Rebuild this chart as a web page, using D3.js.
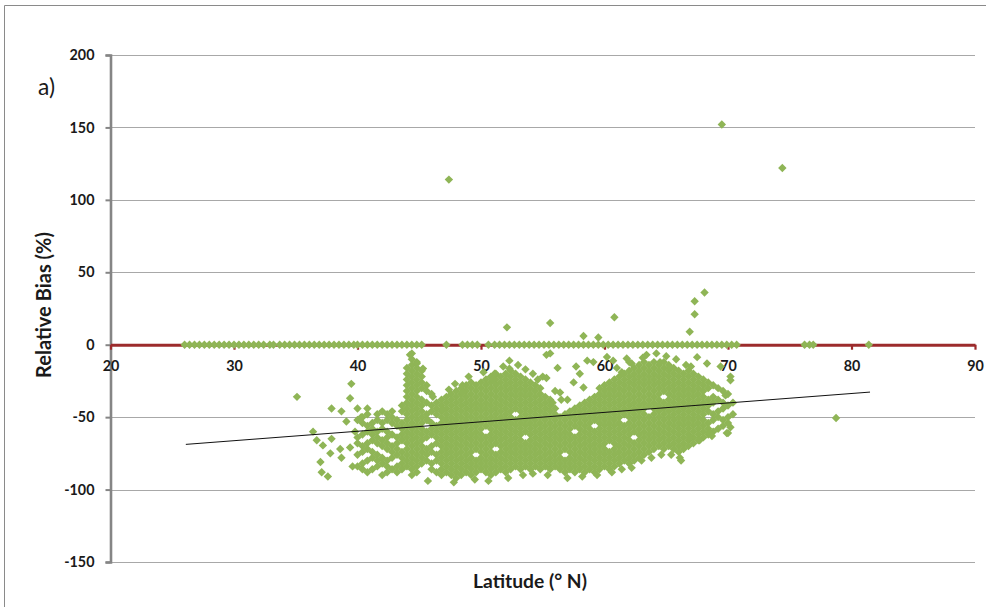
<!DOCTYPE html>
<html>
<head>
<meta charset="utf-8">
<script src="https://cdn.jsdelivr.net/npm/d3@7"></script>
<style>
  html, body { margin: 0; padding: 0; background: #fff; }
  svg { display: block; font-family: Lato, "Open Sans", "Liberation Sans", sans-serif; }
</style>
</head>
<body>
<svg id="chart" width="986" height="607"></svg>
<script>
// Axis ticks
const xTicks = [20, 30, 40, 50, 60, 70, 80, 90];
const yTicks = [-150, -100, -50, 0, 50, 100, 150, 200];

// Stations whose relative bias is exactly 0 % (latitude only)
const zeroLats = [
  26.0, 26.4, 26.8, 27.2, 27.6, 28.0, 28.4, 28.8, 29.2, 29.6, 30.0, 30.4, 30.8, 31.2, 31.6, 32.0, 32.4,
  32.9, 33.2, 33.7,
  34.1, 34.5, 34.9, 35.3, 35.7, 36.1, 36.5, 36.9, 37.3, 37.7, 38.1, 38.5, 38.9, 39.3, 39.7, 40.0,
  40.4, 40.8, 41.2, 41.6, 42.0, 42.4, 42.8, 43.2, 43.6, 44.0, 44.4, 44.8, 45.2,
  47.2, 48.5, 48.9, 49.3, 49.7, 50.6,
  51.1, 51.5, 51.9, 52.3, 52.7, 53.1, 53.5, 53.9, 54.3, 54.7, 55.1, 55.5, 55.9, 56.3, 56.7, 57.1,
  57.5, 57.9, 58.3, 58.7, 59.1, 59.5, 59.9, 60.3, 60.7, 61.1, 61.5, 61.9, 62.3, 62.7, 63.1, 63.5,
  63.9, 64.3, 64.7, 65.1, 65.5, 65.9, 66.3, 66.7, 67.1, 67.5, 67.9, 68.3, 68.7, 69.1, 69.5, 69.9,
  70.3, 70.7,
  76.2, 76.6, 76.9, 81.4
];

// Stations with a positive bias
const positivePoints = [
  [47.4, 114], [69.5, 152], [74.4, 122],
  [52.1, 12], [55.6, 15], [60.8, 19], [58.3, 6], [59.5, 5],
  [66.9, 9], [67.3, 21], [67.3, 30], [68.1, 36]
];

// Isolated negative-bias stations
const scatterPoints = [
  [35.1, -36], [36.4, -60], [36.7, -66], [37.2, -69.5], [37.0, -81], [37.1, -88], [37.6, -91],
  [37.8, -75], [37.9, -65], [37.9, -44], [38.7, -46], [38.6, -72], [38.7, -78], [39.1, -53],
  [39.4, -71], [39.4, -37], [39.5, -27], [40.3, -50], [39.8, -60], [39.6, -84],
  [44.25, -7], [44.8, -13], [45.3, -16.5], [46.1, -36], [45.7, -52], [46.9, -45], [45.7, -94],
  [48.5, -28], [48.5, -33], [51.1, -20], [51.0, -24], [52.3, -11], [52.3, -16.5], [53.6, -17],
  [55.0, -22], [55.3, -7], [55.6, -6], [55.3, -23], [56.2, -16], [56.4, -33], [57.7, -15],
  [58.0, -20], [57.5, -26], [58.3, -29.5], [56.5, -38], [57.0, -38], [58.6, -11], [59.1, -12],
  [60.2, -8.5], [60.7, -11], [61.8, -9.5], [62.2, -13], [61.4, -19],
  [63.1, -9], [64.5, -12], [65.3, -15.6], [67.5, -8.6], [68.3, -13], [69.4, -15], [70.2, -24.5],
  [69.8, -35], [66.9, -64], [67.7, -66], [68.5, -61], [69.9, -61], [66.1, -78], [68.7, -63],
  [70.2, -22], [70.2, -57], [70.0, -61], [78.75, -50.6],
  // ragged edges of the main clusters
  [49.0, -22], [50.2, -19], [51.8, -15], [53.0, -14], [54.2, -20], [54.6, -24], [47.9, -27],
  [47.4, -31], [56.0, -32], [55.8, -40],
  [47.8, -95], [49.5, -93], [50.6, -94], [52.2, -92], [53.4, -90], [54.2, -89], [55.4, -90],
  [57.0, -92], [58.2, -91], [59.4, -90],
  [60.6, -88], [61.4, -86], [62.2, -85], [63.0, -80], [63.8, -78], [64.6, -76], [65.4, -76], [66.2, -80],
  [61.0, -16], [62.0, -12], [63.4, -7], [64.2, -6], [65.0, -8], [65.8, -10], [66.6, -14], [67.0, -15]
];

// Dense cluster of negative-bias stations: [latitude, [bias values]]
const cloudColumns = [
  [40.0, [-44, -52, -64, -68, -76, -84]],
  [40.4, [-50, -54, -62, -70, -74, -82, -86]],
  [40.8, [-44, -48, -56, -60, -68, -72, -80, -88]],
  [41.2, [-54, -58, -62, -66, -74, -78, -86]],
  [41.6, [-48, -52, -60, -64, -68, -76, -80, -84]],
  [42.0, [-46, -54, -58, -66, -70, -78, -82, -90]],
  [42.4, [-48, -52, -60, -64, -68, -72, -80, -84, -88]],
  [42.8, [-46, -50, -54, -62, -70, -74, -78, -86]],
  [43.2, [-52, -56, -64, -68, -72, -76, -84, -88]],
  [43.6, [-42, -46, -54, -58, -62, -66, -74, -78, -82, -86]],
  [44.0, [-16, -20, -24, -28, -32, -36, -40, -44, -48, -52, -56, -60, -64, -68, -72, -76, -80, -84]],
  [44.4, [-6, -10, -14, -18, -22, -26, -30, -34, -38, -42, -46, -50, -54, -58, -62, -66, -70, -74, -78, -82, -86, -90]],
  [44.8, [-12, -16, -20, -24, -28, -32, -36, -40, -44, -48, -52, -56, -60, -64, -68, -72, -76, -80, -84, -88]],
  [45.2, [-18, -22, -26, -30, -38, -42, -46, -50, -54, -58, -62, -66, -70, -74, -78, -82]],
  [45.6, [-28, -32, -40, -48, -52, -60, -64, -72, -76, -80]],
  [46.0, [-34, -42, -46, -54, -58, -62, -70, -74, -82, -86]],
  [46.4, [-40, -44, -48, -56, -60, -64, -68, -76, -80, -88]],
  [46.8, [-38, -42, -46, -50, -54, -58, -62, -66, -70, -74, -78, -82, -86, -90]],
  [47.2, [-36, -40, -44, -48, -52, -56, -60, -64, -68, -72, -76, -80, -84, -88]],
  [47.6, [-34, -38, -42, -46, -50, -54, -58, -62, -66, -70, -74, -78, -82, -86, -90]],
  [48.0, [-32, -36, -40, -44, -48, -52, -56, -60, -64, -68, -72, -76, -80, -84, -88, -92]],
  [48.4, [-30, -34, -38, -42, -46, -50, -54, -58, -62, -66, -70, -74, -78, -82, -86, -90]],
  [48.8, [-28, -32, -36, -40, -44, -48, -52, -56, -60, -64, -68, -72, -76, -80, -84, -88]],
  [49.2, [-26, -30, -34, -38, -42, -46, -50, -54, -58, -62, -66, -70, -74, -78, -82, -86, -90]],
  [49.6, [-28, -32, -36, -40, -44, -48, -52, -56, -60, -64, -68, -72, -80, -84, -88]],
  [50.0, [-26, -30, -34, -38, -42, -46, -50, -54, -58, -62, -66, -70, -74, -78, -82, -86]],
  [50.4, [-24, -28, -32, -36, -40, -44, -48, -52, -56, -64, -68, -72, -76, -80, -84, -88]],
  [50.8, [-22, -26, -30, -34, -38, -42, -46, -50, -54, -58, -62, -66, -70, -74, -78, -82, -86, -90]],
  [51.2, [-20, -24, -28, -32, -36, -40, -44, -48, -52, -56, -60, -64, -68, -76, -80, -84, -88]],
  [51.6, [-22, -26, -30, -34, -38, -42, -46, -50, -54, -58, -62, -66, -70, -74, -78, -82, -86]],
  [52.0, [-20, -24, -28, -32, -36, -40, -44, -48, -52, -56, -60, -64, -68, -72, -76, -80, -84, -88]],
  [52.4, [-18, -22, -26, -30, -34, -38, -42, -46, -50, -54, -58, -62, -66, -70, -74, -78, -82, -86]],
  [52.8, [-20, -24, -28, -32, -36, -40, -44, -52, -56, -60, -64, -68, -72, -76, -80, -84]],
  [53.2, [-22, -26, -30, -34, -38, -42, -46, -50, -54, -58, -62, -66, -70, -74, -78, -82, -86]],
  [53.6, [-24, -28, -32, -36, -40, -44, -48, -52, -56, -60, -68, -72, -76, -80, -84]],
  [54.0, [-26, -30, -34, -38, -42, -46, -50, -54, -58, -62, -66, -70, -74, -78, -82, -86]],
  [54.4, [-28, -32, -36, -40, -44, -48, -52, -56, -60, -64, -68, -72, -76, -80, -84]],
  [54.8, [-30, -34, -38, -42, -46, -50, -54, -58, -62, -66, -70, -74, -78, -82, -86]],
  [55.2, [-36, -40, -44, -48, -52, -56, -60, -64, -68, -72, -76, -80, -84]],
  [55.6, [-38, -42, -46, -50, -54, -58, -62, -66, -70, -74, -78, -82, -86]],
  [56.0, [-44, -48, -52, -56, -60, -64, -68, -72, -76, -80, -84]],
  [56.4, [-50, -54, -58, -62, -66, -70, -74, -78, -82, -86]],
  [56.8, [-48, -52, -56, -60, -64, -68, -72, -80, -84, -88]],
  [57.2, [-46, -50, -54, -58, -62, -66, -70, -74, -78, -82, -86]],
  [57.6, [-44, -48, -52, -56, -64, -68, -72, -76, -80, -84, -88]],
  [58.0, [-42, -46, -50, -54, -58, -62, -66, -70, -74, -78, -82, -86]],
  [58.4, [-40, -44, -48, -52, -56, -60, -64, -68, -72, -76, -80, -84, -88]],
  [58.8, [-38, -42, -46, -50, -54, -58, -62, -66, -70, -74, -78, -82, -86]],
  [59.2, [-36, -40, -44, -48, -52, -60, -64, -68, -72, -76, -80, -84, -88]],
  [59.6, [-30, -34, -38, -42, -46, -50, -54, -58, -62, -66, -70, -74, -78, -82, -86]],
  [60.0, [-28, -32, -36, -40, -44, -48, -52, -56, -60, -64, -68, -72, -76, -80, -84]],
  [60.4, [-26, -30, -34, -38, -42, -46, -50, -54, -58, -62, -66, -74, -78, -82, -86]],
  [60.8, [-24, -28, -32, -36, -40, -44, -48, -52, -56, -60, -64, -68, -72, -76, -80, -84]],
  [61.2, [-22, -26, -30, -34, -38, -42, -46, -50, -54, -58, -62, -66, -70, -74, -78, -82]],
  [61.6, [-20, -24, -28, -32, -36, -40, -44, -48, -56, -60, -64, -68, -72, -76, -80]],
  [62.0, [-18, -22, -26, -30, -34, -38, -42, -46, -50, -54, -58, -62, -66, -70, -74, -78, -82]],
  [62.4, [-16, -20, -24, -28, -32, -36, -40, -44, -48, -52, -56, -60, -68, -72, -76, -80]],
  [62.8, [-14, -18, -22, -26, -30, -34, -38, -42, -46, -50, -54, -58, -62, -66, -70, -74, -78]],
  [63.2, [-12, -16, -20, -24, -28, -32, -36, -40, -44, -48, -52, -56, -60, -64, -68, -72, -76]],
  [63.6, [-14, -18, -22, -26, -30, -34, -38, -42, -50, -54, -58, -62, -66, -70, -74]],
  [64.0, [-12, -16, -20, -24, -28, -32, -36, -40, -44, -48, -52, -56, -60, -64, -68, -72]],
  [64.4, [-14, -18, -22, -26, -30, -34, -38, -42, -46, -50, -54, -58, -62, -66, -70]],
  [64.8, [-12, -16, -20, -24, -28, -32, -40, -44, -48, -52, -56, -60, -64, -68, -72]],
  [65.2, [-14, -18, -22, -26, -30, -34, -38, -42, -46, -50, -54, -58, -62, -66, -70]],
  [65.6, [-16, -20, -24, -28, -32, -36, -40, -44, -48, -52, -56, -60, -64, -68, -72]],
  [66.0, [-18, -22, -26, -30, -34, -38, -42, -46, -50, -54, -58, -62, -66, -70, -74]],
  [66.4, [-20, -24, -28, -32, -36, -40, -44, -48, -52, -56, -60, -64, -68, -72]],
  [66.8, [-18, -22, -26, -30, -34, -38, -42, -46, -50, -54, -58, -62, -66, -70]],
  [67.2, [-20, -24, -28, -32, -36, -40, -44, -48, -52, -56, -60, -64, -68]],
  [67.6, [-22, -26, -30, -34, -38, -42, -46, -50, -54, -58, -62, -66]],
  [68.0, [-24, -28, -32, -36, -40, -44, -48, -52, -56, -60, -64]],
  [68.4, [-26, -30, -38, -42, -46, -54, -58, -62]],
  [68.8, [-28, -36, -40, -48, -52, -60]],
  [69.2, [-30, -38, -46, -50, -58]],
  [69.6, [-32, -40, -44, -52, -56]],
  [70.0, [-34, -42, -50, -54]],
  [70.4, [-40, -48]]
];

// Linear trend line end points [latitude, bias]
const trendEnds = [[26.1, -68.8], [81.5, -32.7]];

const svg = d3.select("#chart");
const x = d3.scaleLinear().domain([20, 90]).range([110.5, 975]);
const y = d3.scaleLinear().domain([-150, 200]).range([562, 55]);
const ink = "#1a1a1a";

// Scale a text element's font size so its rendered width matches a target width
function fitWidth(sel, target) {
  const w = sel.node().getComputedTextLength();
  const fs = parseFloat(sel.attr("font-size"));
  return w > 0 ? fs * target / w : fs;
}

// Outer frame
svg.append("path")
  .attr("d", "M4.5,607V5.5H986")
  .attr("fill", "none").attr("stroke", "#8a8a8a").attr("stroke-width", 1);

// Horizontal gridlines
svg.append("g").selectAll("line")
  .data(yTicks.filter(v => v !== 0))
  .join("line")
  .attr("x1", x(20)).attr("x2", x(90))
  .attr("y1", d => Math.round(y(d)) + 0.5).attr("y2", d => Math.round(y(d)) + 0.5)
  .attr("stroke", "#a8a8a8").attr("stroke-width", 1.2);

// Y axis (plain hyphen for negative labels)
const yAxis = svg.append("g")
  .attr("transform", `translate(${x(20)},0)`)
  .call(d3.axisLeft(y).tickValues(yTicks).tickFormat(d => String(d)).tickSize(5).tickPadding(11));
yAxis.select(".domain").attr("stroke", "#858585").attr("stroke-width", 2.6);
yAxis.selectAll(".tick line").attr("stroke", "#858585").attr("stroke-width", 2);

// X axis drawn along bias = 0
const xAxis = svg.append("g")
  .attr("transform", `translate(0,${y(0)})`)
  .call(d3.axisBottom(x).tickValues(xTicks).tickFormat(d => String(d)).tickSize(5).tickSizeOuter(0).tickPadding(11));
xAxis.select(".domain").attr("stroke", "#9c2b2c").attr("stroke-width", 3);
xAxis.selectAll(".tick line").attr("stroke", "#9c2b2c").attr("stroke-width", 2.2);

// Tick label styling: size chosen so "200" spans about 25 px
const tickTexts = svg.selectAll(".tick text")
  .attr("font-size", 14).attr("font-weight", "bold").attr("fill", ink)
  .style("font-family", "Lato, 'Open Sans', 'Liberation Sans', sans-serif");
const ref200 = yAxis.selectAll(".tick text").filter(d => d === 200);
const tickSize = fitWidth(ref200, 25);
tickTexts.attr("font-size", tickSize);

// Collect every station as [lat, bias]
const points = [];
zeroLats.forEach(lat => points.push([lat, 0]));
cloudColumns.forEach(([lat, vals]) => vals.forEach(v => points.push([lat, v])));
scatterPoints.forEach(p => points.push(p));
positivePoints.forEach(p => points.push(p));

const diamond = "M0,-4.2L4.2,0L0,4.2L-4.2,0Z";
svg.append("g").selectAll("path")
  .data(points)
  .join("path")
  .attr("d", diamond)
  .attr("transform", d => `translate(${x(d[0])},${y(d[1])})`)
  .attr("fill", "#8fb556");

// Trend line
svg.append("line")
  .attr("x1", x(trendEnds[0][0])).attr("y1", y(trendEnds[0][1]))
  .attr("x2", x(trendEnds[1][0])).attr("y2", y(trendEnds[1][1]))
  .attr("stroke", "#111").attr("stroke-width", 1);

// Titles
const yTitle = svg.append("text")
  .attr("transform", `translate(51,305) rotate(-90)`)
  .attr("text-anchor", "middle")
  .attr("font-size", 18).attr("font-weight", "bold").attr("fill", ink)
  .text("Relative Bias (%)");
yTitle.attr("font-size", fitWidth(yTitle, 146));

const xTitle = svg.append("text")
  .attr("x", 530).attr("y", 588)
  .attr("text-anchor", "middle")
  .attr("font-size", 18).attr("font-weight", "bold").attr("fill", ink)
  .text("Latitude (° N)");
xTitle.attr("font-size", fitWidth(xTitle, 114));

const panel = svg.append("text")
  .attr("x", 38).attr("y", 95)
  .attr("font-size", 18).attr("fill", ink)
  .text("a)");
panel.attr("font-size", fitWidth(panel, 17));
</script>
</body>
</html>
